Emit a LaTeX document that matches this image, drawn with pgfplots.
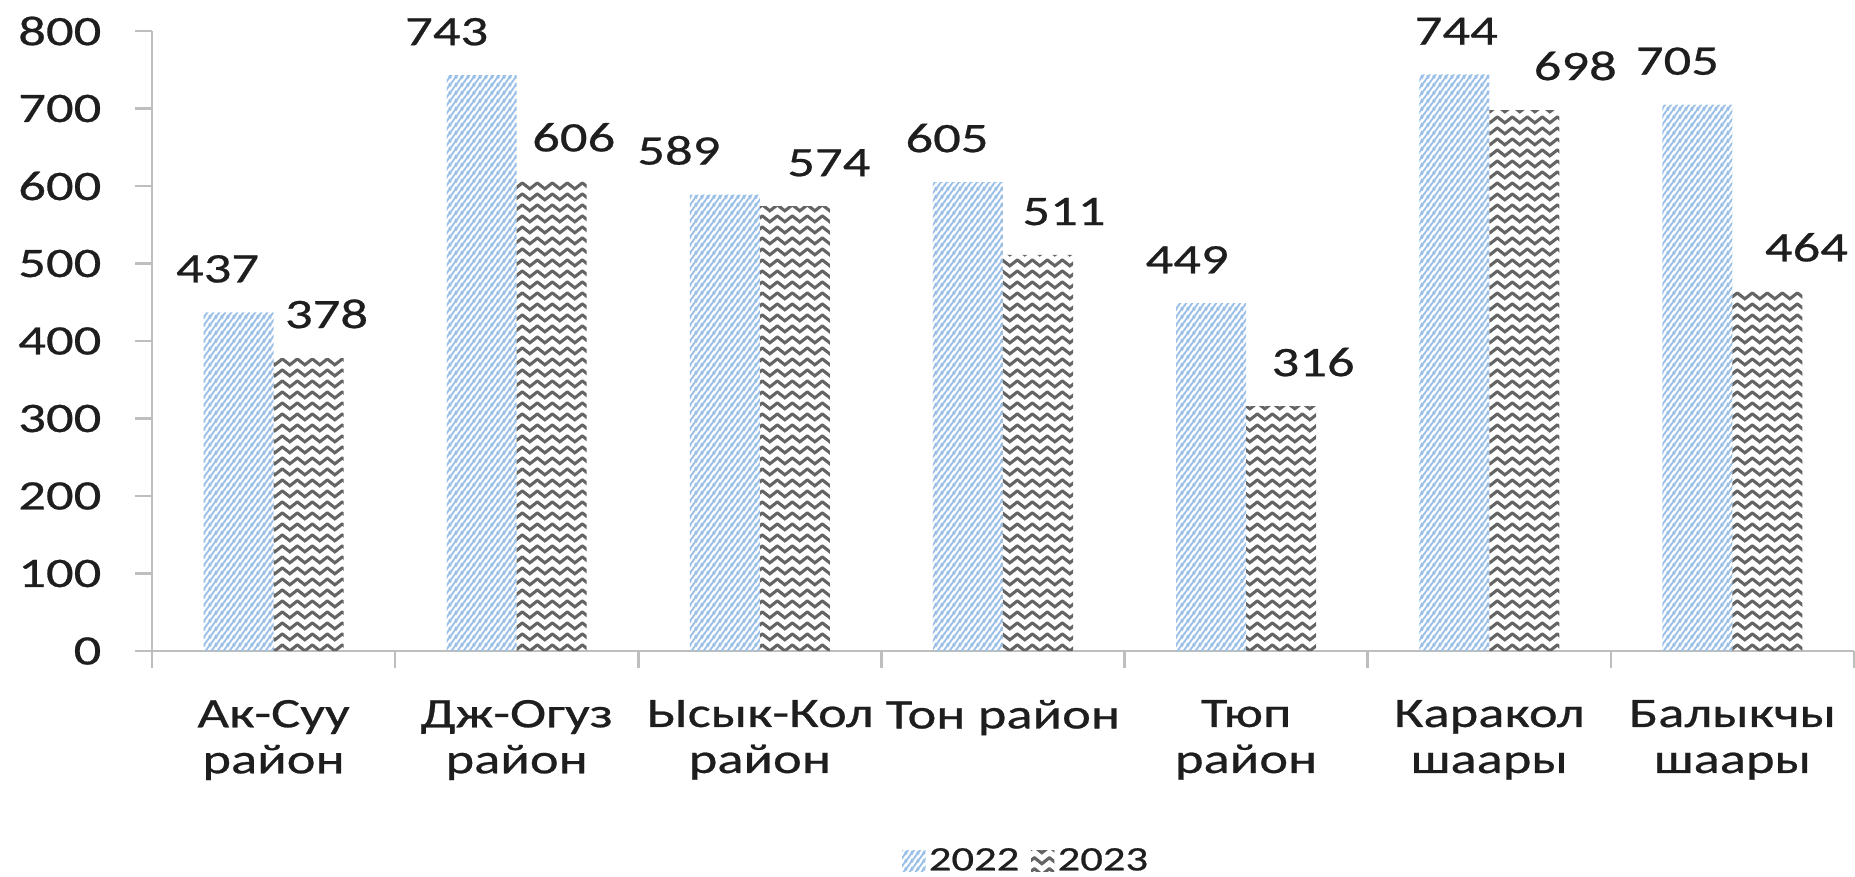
\documentclass[border=0pt]{standalone}
\usepackage{fontspec}
\setmainfont{Carlito}[FakeStretch=1.3, FakeBold=0.6]
\usepackage{pgfplots}
\usepackage{pgfplotstable}
\pgfplotsset{compat=1.18}
\usetikzlibrary{patterns.meta}

\definecolor{bluestripe}{RGB}{155,192,232}
\definecolor{graywave}{RGB}{100,100,100}
\definecolor{axisgray}{RGB}{190,190,190}
\definecolor{txt}{RGB}{30,30,30}

\tikzdeclarepattern{
  name=diagstripes,
  type=uncolored,
  bounding box={(0pt,0pt) and (1.8pt,2.4pt)},
  tile size={(1.8pt,2.4pt)},
  code={
    \draw[line width=0.65pt] (-0.3pt,-0.4pt) -- (2.1pt,2.8pt);
    \draw[line width=0.65pt] (-2.1pt,-0.4pt) -- (0.3pt,2.8pt);
    \draw[line width=0.65pt] (1.5pt,-0.4pt) -- (3.9pt,2.8pt);
  }
}
\tikzdeclarepattern{
  name=zigzag,
  type=uncolored,
  bounding box={(0pt,0pt) and (4.6pt,3.2pt)},
  tile size={(4.6pt,3.2pt)},
  code={
    \draw[line width=0.95pt, line join=round] (-1.15pt,0.2pt) -- (0pt,0.7pt) -- (2.3pt,2.5pt) -- (4.6pt,0.7pt) -- (5.75pt,-0.2pt);
  }
}

% dx = label offset (pt) from the category centre
\pgfplotstableread{
x y dx
0 437 -16.8
1 743 -21.0
2 589 -24.3
3 605 -16.8
4 449 -17.7
5 744 -9.9
6 705 -16.5
}\tabA
\pgfplotstableread{
x y dx
0 378 15.9
1 606 17.1
2 574 20.7
3 511 18.3
4 316 20.1
5 698 25.8
6 464 22.2
}\tabB

\newcommand{\lblfont}{\fontsize{12.6}{13.8}\selectfont}

\begin{document}
\begin{tikzpicture}
\path[use as bounding box] (-45.6pt,-67.5pt) rectangle (510.9pt,195.3pt);
\begin{axis}[
  at={(0pt,0pt)}, anchor=south west,
  width=510.6pt, height=186pt, scale only axis,
  xmin=-0.5, xmax=6.5, ymin=0, ymax=800,
  axis x line*=bottom, axis y line*=left,
  axis line style={draw=axisgray, line width=0.75pt},
  tick align=outside,
  ytick={0,100,...,800},
  xtick={0,1,2,3,4,5,6},
  xticklabels={{Ак-Суу\\район},{Дж-Огуз\\район},{Ысык-Кол\\район},{Тон район},{Тюп\\район},{Каракол\\шаары},{Балыкчы\\шаары}},
  major x tick style={draw=none},
  minor xtick={-0.5,0.5,...,6.5},
  minor x tick style={draw=axisgray, line width=0.75pt},
  major y tick style={draw=axisgray, line width=0.75pt},
  major tick length=5pt, minor tick length=5pt,
  /pgf/number format/assume math mode=true,
  ticklabel style={font=\lblfont, text=txt},
  yticklabel style={inner xsep=0pt, xshift=-10pt},
  xticklabel style={align=center, anchor=north, inner sep=0pt, yshift=-9.5pt},
  legend style={at={(0.514,-0.34)}, anchor=center, draw=none, fill=none,
    legend columns=2, font=\fontsize{10.3}{12}\selectfont, text=txt,
    /tikz/every even column/.append style={column sep=2.5pt},
    inner sep=0pt, nodes={inner xsep=1pt}},
  legend image code/.code={\fill[#1] (0pt,-3pt) rectangle (7pt,3.5pt);},
  clip=false,
]
\addplot[ybar, bar width=0.288, bar shift=-0.144, draw=none,
  pattern=diagstripes, pattern color=bluestripe,
  nodes near coords,
  visualization depends on={\thisrow{dx} \as \dx},
  every node near coord/.append style={anchor=south, inner sep=0pt, yshift=8.7pt, xshift=\dx pt, font=\lblfont, text=txt, /pgf/number format/assume math mode=true}]
  table[x=x, y=y] {\tabA};
\addlegendentry{2022}
\addplot[ybar, bar width=0.288, bar shift=0.144, draw=none,
  pattern=zigzag, pattern color=graywave,
  nodes near coords,
  visualization depends on={\thisrow{dx} \as \dx},
  every node near coord/.append style={anchor=south, inner sep=0pt, yshift=8.7pt, xshift=\dx pt, font=\lblfont, text=txt, /pgf/number format/assume math mode=true}]
  table[x=x, y=y] {\tabB};
\addlegendentry{2023}
\end{axis}
\end{tikzpicture}
\end{document}
